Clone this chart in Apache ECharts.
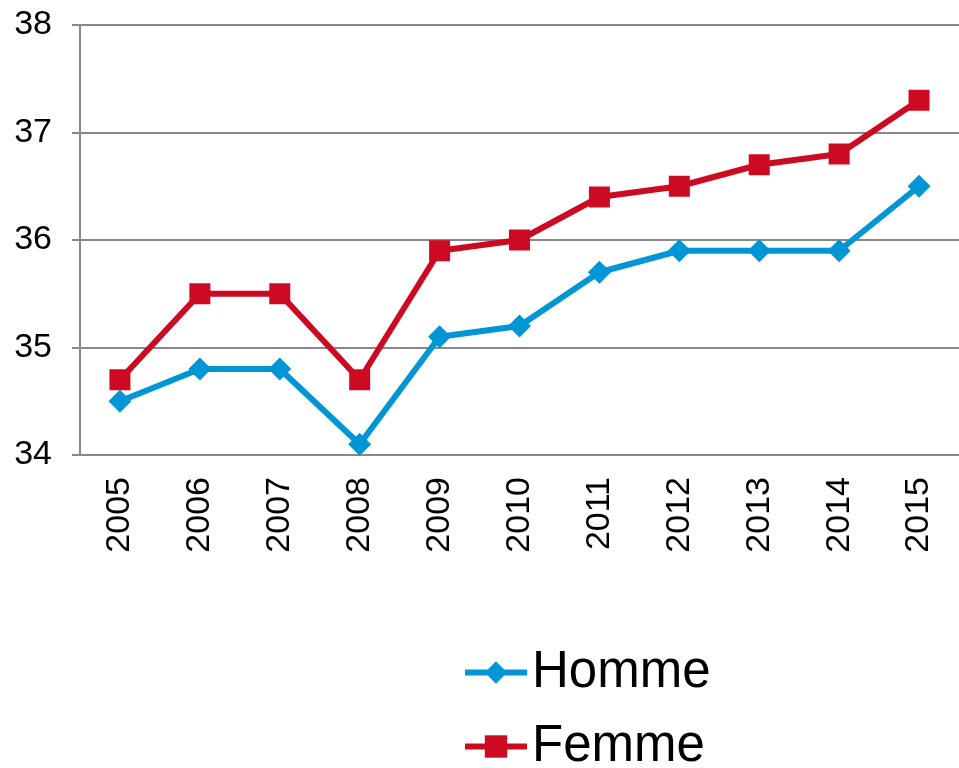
<!DOCTYPE html>
<html>
<head>
<meta charset="utf-8">
<script src="https://cdn.jsdelivr.net/npm/echarts@6/dist/echarts.min.js"></script>
<style>
  html, body { margin: 0; padding: 0; background: #fff; }
  #main { width: 959px; height: 768px; }
</style>
</head>
<body>
<div id="main"></div>
<script>
// données
var years = ['2005', '2006', '2007', '2008', '2009', '2010', '2011', '2012', '2013', '2014', '2015'];
var homme = [34.5, 34.8, 34.8, 34.1, 35.1, 35.2, 35.7, 35.9, 35.9, 35.9, 36.5];
var femme = [34.7, 35.5, 35.5, 34.7, 35.9, 36.0, 36.4, 36.5, 36.7, 36.8, 37.3];

var blue = '#0096D6';
var red = '#CC0A22';

var chart = echarts.init(document.getElementById('main'));
var option = {
    backgroundColor: '#fff',
    textStyle: { fontFamily: 'Liberation Sans' },
    animation: false,
    grid: {
        left: 80,
        right: 0,
        top: 25,
        bottom: 313
    },
    legend: {
        orient: 'vertical',
        left: 462,
        top: 647,
        height: 200,
        padding: 0,
        itemWidth: 62,
        itemHeight: 28,
        itemGap: 23,
        lineStyle: { width: 6 },
        textStyle: { fontSize: 51, lineHeight: 50, color: '#000' },
        data: ['Homme', 'Femme']
    },
    xAxis: {
        type: 'category',
        data: years,
        axisLine: { lineStyle: { color: '#888', width: 2 } },
        axisTick: { length: 10, lineStyle: { color: '#888', width: 2 } },
        axisLabel: { rotate: 90, fontSize: 34, color: '#000', margin: 22 }
    },
    yAxis: {
        type: 'value',
        min: 34,
        max: 38,
        interval: 1,
        axisLine: { show: true, lineStyle: { color: '#888', width: 2 } },
        axisTick: { show: true, length: 8, lineStyle: { color: '#888', width: 2 } },
        axisLabel: { fontSize: 34, color: '#000', margin: 28 },
        splitLine: { lineStyle: { color: '#888', width: 2 } }
    },
    series: [{
        name: 'Homme',
        type: 'line',
        data: homme,
        symbol: 'diamond',
        symbolSize: 23,
        color: blue,
        lineStyle: { width: 6, color: blue },
        itemStyle: { color: blue }
    }, {
        name: 'Femme',
        type: 'line',
        data: femme,
        symbol: 'rect',
        symbolSize: 21,
        color: red,
        lineStyle: { width: 6, color: red },
        itemStyle: { color: red }
    }]
};
chart.setOption(option);
</script>
</body>
</html>
